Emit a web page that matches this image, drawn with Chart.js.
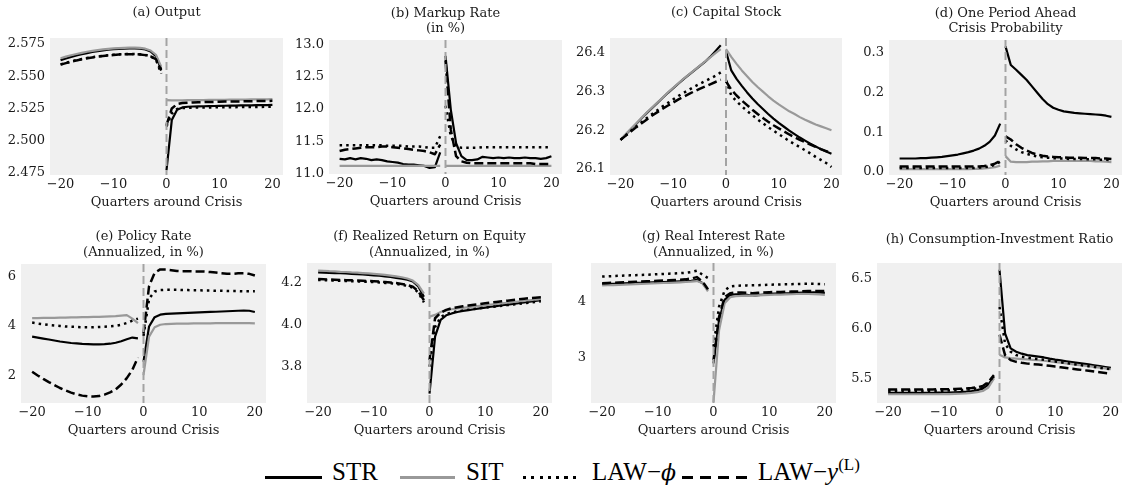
<!DOCTYPE html>
<html><head><meta charset="utf-8">
<script src="https://cdn.jsdelivr.net/npm/chart.js@4.4.1/dist/chart.umd.min.js"></script>
<style>
html,body{margin:0;padding:0;background:#fff;}
body{width:1123px;height:486px;position:relative;overflow:hidden;}
canvas{position:absolute;}
.leg{position:absolute;font-family:"Liberation Serif","DejaVu Serif",serif;font-size:25px;line-height:25px;color:#000;white-space:nowrap;}
.ln{position:absolute;height:3px;}
.sup{font-size:17px;position:relative;top:-10px;}
</style></head><body>
<div class="ln" style="left:265px;top:476px;width:57px;background:#000"></div>
<div class="leg" style="left:332px;top:459px">STR</div>
<div class="ln" style="left:400px;top:476px;width:55px;background:#999"></div>
<div class="leg" style="left:466px;top:459px">SIT</div>
<div class="ln" style="left:523px;top:476px;width:53px;background:repeating-linear-gradient(to right,#000 0 3px,transparent 3px 8.3px)"></div>
<div class="leg" style="left:592px;top:459px">LAW−<i style="font-family:'DejaVu Serif',serif;font-size:22px">ϕ</i></div>
<div class="ln" style="left:682px;top:476px;width:65px;background:repeating-linear-gradient(to right,#000 0 11px,transparent 11px 18px)"></div>
<div class="leg" style="left:758px;top:459px">LAW−<i>y</i><span class="sup">(L)</span></div>
<script>
// ---------------- data ----------------
const quarters = [-20,-19,-18,-17,-16,-15,-14,-13,-12,-11,-10,-9,-8,-7,-6,-5,-4,-3,-2,-1,0,1,2,3,4,5,6,7,8,9,10,11,12,13,14,15,16,17,18,19,20];
const crisisQuarter = 0;
const xTicks = [-20,-10,0,10,20];
const seriesNames = ['STR','SIT','LAW−ϕ','LAW−y(L)'];

// (a) Output
const outputSTR = [2.5625,2.5638,2.5650,2.5661,2.5671,2.5680,2.5688,2.5695,2.5701,2.5706,2.5710,2.5713,2.5715,2.5716,2.5716,2.5714,2.5708,2.5692,2.5655,2.5555, 2.4770,2.5160,2.5240,2.5258,2.5263,2.5265,2.5266,2.5267,2.5268,2.5269,2.5270,2.5271,2.5272,2.5272,2.5273,2.5274,2.5274,2.5275,2.5276,2.5276,2.5277];
const outputSIT = [2.5640,2.5652,2.5663,2.5673,2.5682,2.5690,2.5697,2.5703,2.5708,2.5712,2.5716,2.5719,2.5721,2.5722,2.5722,2.5720,2.5714,2.5700,2.5667,2.5575, 2.5315,2.5312,2.5312,2.5313,2.5314,2.5314,2.5315,2.5315,2.5316,2.5316,2.5317,2.5317,2.5318,2.5318,2.5319,2.5319,2.5320,2.5320,2.5321,2.5321,2.5322];
const outputLAWphi = [2.5592,2.5604,2.5615,2.5625,2.5634,2.5642,2.5648,2.5654,2.5659,2.5663,2.5667,2.5670,2.5672,2.5673,2.5673,2.5671,2.5666,2.5655,2.5630,2.5520, 2.5110,2.5210,2.5245,2.5253,2.5255,2.5256,2.5257,2.5257,2.5258,2.5258,2.5259,2.5259,2.5260,2.5260,2.5261,2.5261,2.5261,2.5262,2.5262,2.5263,2.5263];
const outputLAWy = [2.5590,2.5602,2.5613,2.5623,2.5632,2.5640,2.5646,2.5652,2.5657,2.5661,2.5665,2.5668,2.5670,2.5671,2.5671,2.5669,2.5664,2.5654,2.5632,2.5545, 2.5120,2.5250,2.5284,2.5292,2.5295,2.5297,2.5298,2.5299,2.5300,2.5301,2.5302,2.5303,2.5303,2.5304,2.5305,2.5306,2.5306,2.5307,2.5308,2.5308,2.5309];
const outputTicks = [2.475,2.500,2.525,2.550,2.575];

// (b) Markup rate
const markupSTR = [11.23,11.22,11.24,11.22,11.24,11.23,11.21,11.22,11.21,11.19,11.18,11.17,11.15,11.14,11.14,11.13,11.12,11.09,11.10,11.33, 12.82,11.99,11.47,11.27,11.21,11.21,11.22,11.26,11.25,11.24,11.25,11.24,11.25,11.24,11.24,11.25,11.24,11.24,11.23,11.24,11.27];
const markupSIT = [11.12,11.12,11.12,11.12,11.12,11.12,11.12,11.12,11.12,11.12,11.12,11.12,11.12,11.12,11.12,11.12,11.12,11.12,11.12,11.12, 11.12,11.12,11.12,11.12,11.12,11.12,11.12,11.12,11.12,11.12,11.12,11.12,11.12,11.12,11.12,11.12,11.12,11.12,11.12,11.12,11.12];
const markupLAWphi = [11.44,11.44,11.44,11.44,11.44,11.44,11.44,11.44,11.44,11.43,11.43,11.43,11.43,11.42,11.42,11.42,11.41,11.40,11.40,11.58, 12.05,11.58,11.42,11.40,11.40,11.40,11.40,11.41,11.41,11.41,11.41,11.41,11.41,11.41,11.41,11.41,11.41,11.41,11.41,11.41,11.41];
const markupLAWy = [11.35,11.37,11.38,11.39,11.40,11.41,11.41,11.41,11.42,11.42,11.41,11.40,11.39,11.38,11.37,11.36,11.35,11.33,11.30,11.45, 12.75,11.68,11.27,11.19,11.17,11.16,11.16,11.16,11.16,11.16,11.16,11.16,11.16,11.16,11.16,11.16,11.16,11.15,11.15,11.15,11.15];
const markupTicks = [11.0,11.5,12.0,12.5,13.0];

// (c) Capital stock
const capitalSTR = [26.175,26.189,26.203,26.217,26.231,26.245,26.258,26.271,26.284,26.297,26.309,26.321,26.333,26.344,26.355,26.366,26.377,26.390,26.405,26.420, 26.405,26.355,26.333,26.315,26.298,26.282,26.268,26.255,26.242,26.230,26.219,26.209,26.199,26.190,26.181,26.173,26.165,26.158,26.151,26.145,26.139];
const capitalSIT = [26.176,26.190,26.204,26.218,26.232,26.246,26.259,26.272,26.285,26.298,26.310,26.322,26.334,26.345,26.356,26.367,26.378,26.389,26.400,26.410, 26.410,26.390,26.372,26.355,26.340,26.325,26.312,26.300,26.288,26.277,26.267,26.258,26.249,26.242,26.234,26.227,26.221,26.215,26.210,26.205,26.200];
const capitalLAWphi = [26.175,26.187,26.199,26.210,26.221,26.232,26.242,26.252,26.262,26.271,26.280,26.289,26.297,26.305,26.313,26.320,26.327,26.334,26.341,26.350, 26.330,26.290,26.275,26.262,26.250,26.239,26.228,26.218,26.208,26.199,26.190,26.181,26.172,26.164,26.156,26.148,26.140,26.131,26.123,26.115,26.105];
const capitalLAWy = [26.175,26.186,26.197,26.208,26.218,26.228,26.238,26.247,26.256,26.264,26.272,26.280,26.287,26.294,26.301,26.307,26.313,26.319,26.325,26.331, 26.327,26.305,26.290,26.277,26.265,26.253,26.242,26.232,26.222,26.213,26.205,26.197,26.189,26.182,26.175,26.169,26.163,26.157,26.151,26.146,26.141];
const capitalTicks = [26.1,26.2,26.3,26.4];

// (d) One period ahead crisis probability
const crisisSTR = [0.034,0.034,0.034,0.034,0.035,0.035,0.036,0.037,0.038,0.040,0.042,0.044,0.047,0.050,0.054,0.059,0.066,0.076,0.092,0.122, 0.317,0.270,0.258,0.245,0.232,0.216,0.200,0.184,0.171,0.162,0.157,0.153,0.151,0.149,0.148,0.147,0.146,0.145,0.144,0.142,0.139];
const crisisSIT = [0.007,0.007,0.007,0.007,0.007,0.007,0.007,0.007,0.007,0.007,0.007,0.007,0.007,0.007,0.008,0.008,0.009,0.010,0.012,0.016, 0.040,0.026,0.025,0.025,0.025,0.026,0.026,0.027,0.027,0.028,0.028,0.028,0.028,0.028,0.028,0.028,0.028,0.027,0.027,0.026,0.025];
const crisisLAWphi = [0.010,0.010,0.010,0.010,0.010,0.010,0.010,0.010,0.010,0.010,0.010,0.010,0.010,0.010,0.010,0.011,0.012,0.014,0.018,0.026, 0.080,0.066,0.057,0.050,0.046,0.042,0.039,0.037,0.036,0.035,0.034,0.034,0.033,0.033,0.033,0.032,0.032,0.032,0.031,0.031,0.030];
const crisisLAWy = [0.014,0.014,0.014,0.014,0.014,0.014,0.014,0.014,0.014,0.014,0.014,0.014,0.014,0.014,0.014,0.014,0.015,0.017,0.021,0.028, 0.090,0.082,0.070,0.061,0.054,0.048,0.044,0.041,0.039,0.038,0.037,0.037,0.036,0.036,0.036,0.035,0.035,0.035,0.034,0.034,0.033];
const crisisTicks = [0.0,0.1,0.2,0.3];

// (e) Policy rate
const policySTR = [3.57,3.53,3.49,3.45,3.41,3.37,3.34,3.31,3.29,3.27,3.26,3.25,3.25,3.26,3.28,3.32,3.38,3.46,3.53,3.50, 2.55,3.98,4.36,4.46,4.49,4.50,4.51,4.52,4.53,4.54,4.55,4.56,4.57,4.58,4.59,4.60,4.61,4.62,4.63,4.62,4.57];
const policySIT = [4.32,4.32,4.33,4.33,4.33,4.34,4.34,4.35,4.35,4.36,4.36,4.37,4.37,4.38,4.39,4.40,4.42,4.44,4.30,4.12, 2.00,3.57,3.95,4.05,4.08,4.09,4.10,4.10,4.10,4.11,4.11,4.11,4.11,4.12,4.12,4.12,4.12,4.12,4.12,4.12,4.11];
const policyLAWphi = [4.14,4.10,4.07,4.04,4.02,4.00,3.98,3.97,3.96,3.95,3.95,3.95,3.96,3.97,3.99,4.01,4.05,4.12,4.22,4.30, 3.60,5.10,5.40,5.46,5.47,5.47,5.47,5.46,5.46,5.45,5.45,5.44,5.44,5.43,5.43,5.42,5.42,5.42,5.41,5.41,5.41];
const policyLAWy = [2.14,1.99,1.85,1.72,1.60,1.48,1.38,1.29,1.22,1.17,1.14,1.13,1.15,1.21,1.30,1.42,1.62,1.88,2.22,2.72, 3.70,5.62,6.16,6.30,6.30,6.27,6.24,6.23,6.23,6.22,6.22,6.21,6.19,6.17,6.14,6.12,6.12,6.14,6.14,6.12,6.05];
const policyTicks = [2,4,6];

// (f) Realized return on equity
const equitySTR = [4.251,4.250,4.249,4.248,4.247,4.246,4.244,4.243,4.241,4.239,4.237,4.235,4.232,4.229,4.225,4.221,4.216,4.208,4.184,4.135, 3.672,3.944,4.024,4.046,4.055,4.062,4.067,4.071,4.075,4.079,4.083,4.087,4.090,4.094,4.097,4.101,4.104,4.108,4.111,4.115,4.119];
const equitySIT = [4.260,4.259,4.257,4.256,4.254,4.253,4.251,4.250,4.248,4.246,4.244,4.242,4.239,4.236,4.232,4.228,4.222,4.212,4.190,4.150, 4.040,4.048,4.062,4.070,4.075,4.079,4.082,4.085,4.088,4.091,4.094,4.097,4.100,4.103,4.106,4.109,4.112,4.115,4.118,4.121,4.123];
const equityLAWphi = [4.215,4.214,4.213,4.212,4.211,4.210,4.209,4.208,4.207,4.206,4.205,4.203,4.201,4.199,4.196,4.192,4.187,4.178,4.155,4.108, 3.800,3.990,4.038,4.052,4.060,4.065,4.069,4.073,4.076,4.080,4.083,4.086,4.089,4.092,4.095,4.098,4.101,4.104,4.107,4.110,4.113];
const equityLAWy = [4.219,4.218,4.217,4.216,4.215,4.214,4.213,4.212,4.211,4.210,4.209,4.207,4.205,4.203,4.200,4.196,4.191,4.183,4.160,4.118, 3.832,4.032,4.058,4.072,4.080,4.085,4.089,4.093,4.097,4.100,4.104,4.107,4.110,4.113,4.116,4.119,4.122,4.125,4.128,4.130,4.132];
const equityTicks = [3.8,4.0,4.2];

// (g) Real interest rate
const realRateSTR = [4.310,4.313,4.317,4.320,4.324,4.327,4.331,4.334,4.338,4.341,4.345,4.348,4.352,4.355,4.359,4.363,4.370,4.385,4.330,4.210, 2.900,3.670,4.030,4.120,4.130,4.130,4.120,4.100,4.115,4.125,4.137,4.140,4.145,4.148,4.150,4.155,4.158,4.160,4.162,4.160,4.155];
const realRateSIT = [4.286,4.290,4.294,4.298,4.302,4.306,4.310,4.314,4.318,4.322,4.326,4.330,4.334,4.338,4.343,4.348,4.355,4.365,4.330,4.180, 2.210,3.490,3.970,4.077,4.095,4.100,4.105,4.100,4.110,4.115,4.120,4.122,4.125,4.128,4.130,4.135,4.137,4.135,4.132,4.128,4.120];
const realRateLAWphi = [4.446,4.450,4.454,4.458,4.462,4.466,4.470,4.474,4.478,4.482,4.488,4.492,4.496,4.500,4.505,4.512,4.525,4.550,4.480,4.420, 3.200,3.910,4.196,4.270,4.280,4.285,4.288,4.290,4.292,4.295,4.300,4.302,4.305,4.308,4.310,4.313,4.315,4.315,4.315,4.312,4.310];
const realRateLAWy = [4.327,4.331,4.335,4.340,4.344,4.348,4.352,4.357,4.361,4.365,4.370,4.374,4.378,4.383,4.388,4.395,4.410,4.435,4.360,4.220, 2.960,3.730,4.077,4.150,4.160,4.162,4.158,4.150,4.155,4.160,4.167,4.170,4.172,4.175,4.178,4.180,4.183,4.186,4.188,4.190,4.190];
const realRateTicks = [3,4];

// (h) Consumption-investment ratio
const ciRatioSTR = [5.355,5.355,5.355,5.355,5.356,5.356,5.356,5.357,5.357,5.358,5.358,5.359,5.361,5.364,5.368,5.374,5.383,5.398,5.440,5.517, 6.594,5.955,5.803,5.770,5.750,5.736,5.728,5.720,5.712,5.700,5.690,5.682,5.674,5.666,5.658,5.650,5.642,5.634,5.626,5.616,5.607];
const ciRatioSIT = [5.342,5.342,5.342,5.342,5.342,5.342,5.342,5.342,5.342,5.342,5.343,5.344,5.345,5.347,5.350,5.355,5.362,5.375,5.410,5.500, 5.740,5.712,5.705,5.700,5.696,5.692,5.688,5.684,5.679,5.673,5.666,5.659,5.652,5.645,5.638,5.631,5.624,5.617,5.610,5.602,5.594];
const ciRatioLAWphi = [5.375,5.375,5.375,5.376,5.376,5.376,5.377,5.377,5.377,5.378,5.378,5.379,5.381,5.384,5.388,5.394,5.402,5.416,5.458,5.525, 6.220,5.850,5.770,5.736,5.720,5.710,5.702,5.695,5.688,5.680,5.672,5.664,5.656,5.648,5.640,5.632,5.624,5.616,5.608,5.600,5.594];
const ciRatioLAWy = [5.389,5.389,5.389,5.390,5.390,5.390,5.391,5.391,5.391,5.392,5.392,5.393,5.395,5.397,5.400,5.405,5.412,5.425,5.466,5.534, 5.940,5.736,5.685,5.668,5.658,5.650,5.645,5.640,5.634,5.628,5.620,5.613,5.606,5.599,5.592,5.585,5.578,5.570,5.563,5.556,5.550];
const ciRatioTicks = [5.5,6.0,6.5];

// ---------------- styling / layout ----------------
const FONT = "'DejaVu Serif', serif";
const FS = 13;
const TXT = '#1a1a1a';
const seriesStyle = [
  {color:'#000000', dash:[], width:2.2, order:3},
  {color:'#999999', dash:[], width:2.2, order:2},
  {color:'#000000', dash:[2.5,4.1], width:2.5, order:1},
  {color:'#000000', dash:[9,4], width:2.5, order:0}
];

const panels = [
  {title:['(a) Output'], tY:12.7, lh:15, plot:[50,38,283,175], cTop:0, range:[2.4733,2.5797], ticks:outputTicks, dec:3, yw:50, s:[outputSTR,outputSIT,outputLAWphi,outputLAWy]},
  {title:['(b) Markup Rate','(in %)'], tY:13.3, lh:15, plot:[329,40,562,174], cTop:0, range:[10.995,13.066], ticks:markupTicks, dec:1, yw:46, s:[markupSTR,markupSIT,markupLAWphi,markupLAWy]},
  {title:['(c) Capital Stock'], tY:13.0, lh:15, plot:[610,38,842,175], cTop:0, range:[26.084,26.439], ticks:capitalTicks, dec:1, yw:48, s:[capitalSTR,capitalSIT,capitalLAWphi,capitalLAWy]},
  {title:['(d) One Period Ahead','Crisis Probability'], tY:13.3, lh:15, plot:[889,40,1122,175], cTop:0, range:[-0.0076,0.333], ticks:crisisTicks, dec:1, yw:42, s:[crisisSTR,crisisSIT,crisisLAWphi,crisisLAWy]},
  {title:['(e) Policy Rate','(Annualized, in %)'], tY:236.7, lh:16, plot:[21,264,266,403], cTop:222, range:[0.87,6.52], ticks:policyTicks, dec:0, yw:21, s:[policySTR,policySIT,policyLAWphi,policyLAWy]},
  {title:['(f) Realized Return on Equity','(Annualized, in %)'], tY:236.7, lh:16, plot:[307,263,552,403], cTop:222, range:[3.627,4.296], ticks:equityTicks, dec:1, yw:38, s:[equitySTR,equitySIT,equityLAWphi,equityLAWy]},
  {title:['(g) Real Interest Rate','(Annualized, in %)'], tY:236.7, lh:16, plot:[591,263,836,403], cTop:222, range:[2.196,4.686], ticks:realRateTicks, dec:0, yw:30, s:[realRateSTR,realRateSIT,realRateLAWphi,realRateLAWy]},
  {title:['(h) Consumption-Investment Ratio'], tY:240, lh:16, plot:[877,263,1122,403], cTop:222, range:[5.254,6.662], ticks:ciRatioTicks, dec:1, yw:38, s:[ciRatioSTR,ciRatioSIT,ciRatioLAWphi,ciRatioLAWy]}
];

function toPoints(vals){
  const pts = [];
  quarters.forEach((q,i)=>{
    if (q === crisisQuarter) pts.push({x: crisisQuarter - 0.5, y: null});
    pts.push({x:q, y:vals[i]});
  });
  return pts;
}

const plotBg = {
  id:'plotBg',
  beforeDraw(chart){
    const {ctx, chartArea:{left,top,width,height}} = chart;
    ctx.save(); ctx.fillStyle = '#f0f0f0'; ctx.fillRect(left,top,width,height); ctx.restore();
  }
};
const crisisLine = {
  id:'crisisLine',
  afterDatasetsDraw(chart){
    const {ctx, chartArea:{top,bottom}, scales:{x}} = chart;
    const px = x.getPixelForValue(crisisQuarter);
    ctx.save(); ctx.strokeStyle = '#a3a3a3'; ctx.lineWidth = 2; ctx.setLineDash([8,4]);
    ctx.beginPath(); ctx.moveTo(px, top); ctx.lineTo(px, bottom); ctx.stroke(); ctx.restore();
  }
};

const XH = 42;
const LH = FS * 1.2;
panels.forEach(p => {
  const [l,t,r,b] = p.plot;
  const cLeft = l - p.yw;
  const cW = r - cLeft;
  const cH = b + XH - p.cTop;
  const cv = document.createElement('canvas');
  cv.width = cW; cv.height = cH;
  cv.style.left = cLeft + 'px'; cv.style.top = p.cTop + 'px';
  cv.style.width = cW + 'px'; cv.style.height = cH + 'px';
  document.body.appendChild(cv);
  const padTop = p.tY - p.cTop - p.lh/2;
  const padBottom = (t - p.cTop) - padTop - p.title.length * p.lh;
  new Chart(cv, {
    type:'line',
    data:{
      datasets: p.s.map((vals,k)=>({
        label: seriesNames[k],
        data: toPoints(vals),
        borderColor: seriesStyle[k].color,
        borderWidth: seriesStyle[k].width,
        borderDash: seriesStyle[k].dash,
        borderCapStyle: 'butt',
        borderJoinStyle: 'round',
        pointRadius: 0,
        tension: 0,
        fill: false,
        spanGaps: false,
        order: seriesStyle[k].order
      }))
    },
    options:{
      responsive:false, animation:false, devicePixelRatio:1,
      layout:{padding:0},
      plugins:{
        legend:{display:false}, tooltip:{enabled:false},
        title:{display:true, text:p.title, fullSize:false, color:TXT,
          font:{family:FONT, size:FS, weight:'normal', lineHeight:p.lh+'px'},
          padding:{top:padTop, bottom:padBottom}}
      },
      scales:{
        x:{type:'linear', min:-22, max:22,
          grid:{display:false, drawTicks:false}, border:{display:false},
          afterBuildTicks: sc => { sc.ticks = xTicks.map(v=>({value:v})); },
          afterFit: sc => { sc.height = XH; sc.paddingLeft = 0; sc.paddingRight = 0; },
          ticks:{color:TXT, padding:10 - LH/2, font:{family:FONT, size:FS}, maxRotation:0, autoSkip:false,
            callback: v => String(v).replace('-', '\u2212')},
          title:{display:true, text:'Quarters around Crisis', color:TXT, font:{family:FONT, size:FS}, padding:{top:0, bottom:XH - 28 - LH/2}}
        },
        y:{type:'linear', min:p.range[0], max:p.range[1],
          grid:{display:false, drawTicks:false}, border:{display:false},
          afterBuildTicks: sc => { sc.ticks = p.ticks.map(v=>({value:v})); },
          afterFit: sc => { sc.width = p.yw; sc.paddingTop = 0; sc.paddingBottom = 0; },
          ticks:{color:TXT, padding:5, font:{family:FONT, size:FS}, autoSkip:false,
            callback: v => Number(v).toFixed(p.dec)}
        }
      }
    },
    plugins:[plotBg, crisisLine]
  });
});
</script>
</body></html>
